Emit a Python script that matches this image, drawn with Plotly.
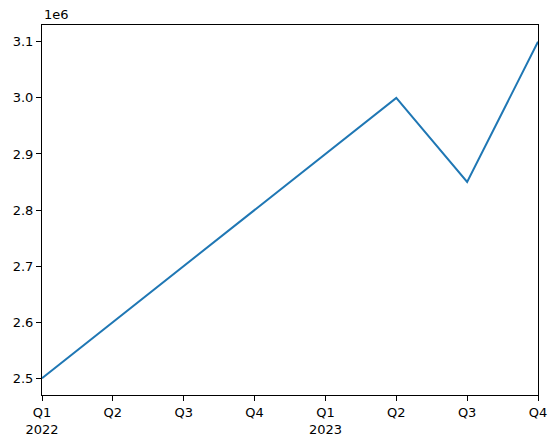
import plotly.graph_objects as go

quarters = ["Q1", "Q2", "Q3", "Q4", "Q1", "Q2", "Q3", "Q4"]
years = ["2022", "", "", "", "2023", "", "", ""]
values = [2500000, 2600000, 2700000, 2800000, 2900000, 3000000, 2850000, 3100000]
y_ticks = [2500000, 2600000, 2700000, 2800000, 2900000, 3000000, 3100000]
y_tick_labels = ["2.5", "2.6", "2.7", "2.8", "2.9", "3.0", "3.1"]

x_idx = list(range(len(values)))
tick_text = [q + ("<br>" + y if y else "") for q, y in zip(quarters, years)]

fig = go.Figure(go.Scatter(x=x_idx, y=values, mode="lines",
                           line=dict(color="#1f77b4", width=2)))

axis_common = dict(showline=True, linecolor="black", linewidth=1, mirror=True,
                   ticks="outside", ticklen=5, tickcolor="black", showgrid=False,
                   zeroline=False, automargin=False,
                   tickfont=dict(family="DejaVu Sans", size=13, color="black"))

fig.update_xaxes(range=[0, len(values) - 1], tickvals=x_idx, ticktext=tick_text, **axis_common)
fig.update_yaxes(range=[2470000, 3130000], tickvals=y_ticks, ticktext=y_tick_labels, **axis_common)

fig.add_annotation(text="1e6", xref="paper", yref="paper", x=0, y=1, xanchor="left",
                   yanchor="bottom", showarrow=False, yshift=1,
                   font=dict(family="DejaVu Sans", size=13, color="black"))

fig.update_layout(width=557, height=444, margin=dict(l=34, r=27, t=17, b=57),
                  plot_bgcolor="white", paper_bgcolor="white", showlegend=False,
                  font=dict(family="DejaVu Sans"))

fig.write_html("out.html")
